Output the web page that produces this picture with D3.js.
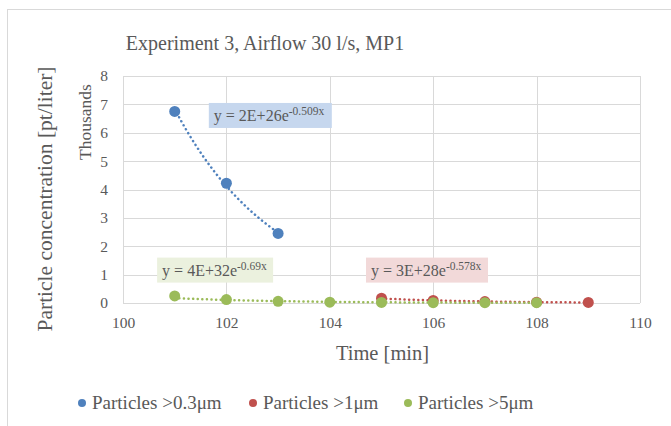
<!DOCTYPE html>
<html lang="en">
<head>
    <meta charset="UTF-8">
    <title>Experiment 3, Airflow 30 l/s, MP1</title>
    <script type="application/javascript" src="https://cdnjs.cloudflare.com/ajax/libs/d3/7.8.5/d3.min.js"></script>
    <style type="text/css">
        body { margin: 0; background: #fff; }
        svg text { fill: #595959; }
        .grid line { stroke: #d9d9d9; stroke-width: 1; }
        .axis path, .axis line { display: none; }
    </style>
</head>
<body>
<svg width="671" height="426"></svg>
<script type="application/javascript">
    // time in minutes, concentration in thousands of particles per liter
    var TIME_03 = [101, 102, 103];
    var CONC_03 = [6.75, 4.22, 2.45];
    var TIME_1 = [105, 106, 107, 108, 109];
    var CONC_1 = [0.17, 0.09, 0.05, 0.03, 0.02];
    var TIME_5 = [101, 102, 103, 104, 105, 106, 107, 108];
    var CONC_5 = [0.25, 0.12, 0.06, 0.03, 0.02, 0.012, 0.01, 0.01];

    var SERIES_NAMES = ['Particles >0.3\u03bcm', 'Particles >1\u03bcm', 'Particles >5\u03bcm'];
    var COLORS = ['#4f81bd', '#c0504d', '#9bbb59'];
    var LABEL_FILLS = ['#c6d7ee', '#f2d9d9', '#ebf1de'];
    var EQ_BASE = ['y = 2E+26e', 'y = 3E+28e', 'y = 4E+32e'];
    var EQ_EXP = ['-0.509x', '-0.578x', '-0.69x'];
    var X_TICKS = [100, 102, 104, 106, 108, 110];
    var Y_TICKS = [0, 1, 2, 3, 4, 5, 6, 7, 8];

    var FONT = "'Liberation Serif', 'Times New Roman', serif";

    var svg = d3.select('svg');
    var margin = {top: 76, left: 123, right: 31, bottom: 123};
    var width = 671 - margin.left - margin.right;
    var height = 426 - margin.top - margin.bottom;

    var x = d3.scaleLinear().domain([100, 110]).range([0, width]);
    var y = d3.scaleLinear().domain([0, 8]).range([height, 0]);

    // chart border
    svg.append('rect')
        .attr('x', 7.5).attr('y', 9.5)
        .attr('width', 680).attr('height', 430)
        .attr('fill', 'none').attr('stroke', '#d9d9d9');

    svg.append('text')
        .attr('x', 265).attr('y', 50)
        .attr('text-anchor', 'middle')
        .attr('font-family', FONT)
        .attr('font-size', 20)
        .text('Experiment 3, Airflow 30 l/s, MP1');

    var g = svg.append('g')
        .attr('transform', 'translate(' + margin.left + ',' + margin.top + ')');

    var grid = g.append('g').attr('class', 'grid');
    grid.selectAll('line.h').data(Y_TICKS).enter().append('line')
        .attr('x1', 0).attr('x2', width)
        .attr('y1', function(d) { return Math.round(y(d)) + 0.5; })
        .attr('y2', function(d) { return Math.round(y(d)) + 0.5; });
    grid.selectAll('line.v').data(X_TICKS).enter().append('line')
        .attr('y1', 0).attr('y2', height)
        .attr('x1', function(d) { return Math.round(x(d)) + 0.5; })
        .attr('x2', function(d) { return Math.round(x(d)) + 0.5; });

    var xAxis = g.append('g')
        .attr('class', 'axis')
        .attr('transform', 'translate(0,' + height + ')')
        .call(d3.axisBottom(x).tickValues(X_TICKS).tickSize(0).tickPadding(14));
    xAxis.attr('font-family', FONT).attr('font-size', 15.5);

    var yAxis = g.append('g')
        .attr('class', 'axis')
        .call(d3.axisLeft(y).tickValues(Y_TICKS).tickSize(0).tickPadding(15));
    yAxis.attr('font-family', FONT).attr('font-size', 15.5);

    svg.append('text')
        .attr('transform', 'translate(91,122) rotate(-90)')
        .attr('text-anchor', 'middle')
        .attr('font-family', FONT)
        .attr('font-size', 17.5)
        .text('Thousands');

    svg.append('text')
        .attr('transform', 'translate(52,199) rotate(-90)')
        .attr('text-anchor', 'middle')
        .attr('font-family', FONT)
        .attr('font-size', 21.5)
        .text('Particle concentration [pt/liter]');

    svg.append('text')
        .attr('x', margin.left + width / 2 + 1).attr('y', 360)
        .attr('text-anchor', 'middle')
        .attr('font-family', FONT)
        .attr('font-size', 20.5)
        .text('Time [min]');

    // exponential least squares fit on ln(y), like a spreadsheet trendline
    function expFit(xs, ys) {
        var n = xs.length;
        var ly = ys.map(function(v) { return Math.log(v); });
        var mx = d3.mean(xs), my = d3.mean(ly);
        var num = 0, den = 0;
        for (var i = 0; i < n; i++) {
            num += (xs[i] - mx) * (ly[i] - my);
            den += (xs[i] - mx) * (xs[i] - mx);
        }
        var b = num / den;
        var a = my - b * mx;
        return function(t) { return Math.exp(a + b * t); };
    }

    var series = [
        {xs: TIME_03, ys: CONC_03},
        {xs: TIME_1, ys: CONC_1},
        {xs: TIME_5, ys: CONC_5}
    ];

    var line = d3.line()
        .x(function(d) { return x(d[0]); })
        .y(function(d) { return y(d[1]); });

    var order = [0, 1, 2];
    order.forEach(function(i) {
        var s = series[i];
        var f = expFit(s.xs, s.ys);
        var x0 = d3.min(s.xs), x1 = d3.max(s.xs);
        var pts = d3.range(0, 61).map(function(k) {
            var t = x0 + (x1 - x0) * k / 60;
            return [t, f(t)];
        });
        g.append('path')
            .datum(pts)
            .attr('d', line)
            .attr('fill', 'none')
            .attr('stroke', COLORS[i])
            .attr('stroke-width', 2.5)
            .attr('stroke-linecap', 'round')
            .attr('stroke-dasharray', '0.1 4.5');
    });

    order.forEach(function(i) {
        var s = series[i];
        g.append('g').selectAll('circle')
            .data(s.xs.map(function(t, k) { return [t, s.ys[k]]; }))
            .enter().append('circle')
            .attr('cx', function(d) { return x(d[0]); })
            .attr('cy', function(d) { return y(d[1]); })
            .attr('r', 5.5)
            .attr('fill', COLORS[i]);
    });

    // equation labels (positions in data space)
    var labelPos = [
        {x: 101.66, y: 7.05, w: 123},
        {x: 104.7, y: 1.6, w: 122},
        {x: 100.66, y: 1.6, w: 116}
    ];
    labelPos.forEach(function(p, i) {
        var lx = x(p.x), ly = y(p.y);
        var lg = g.append('g').attr('transform', 'translate(' + lx + ',' + ly + ')');
        lg.append('rect')
            .attr('x', 0).attr('y', 0)
            .attr('width', p.w).attr('height', 25)
            .attr('fill', LABEL_FILLS[i]);
        var t = lg.append('text')
            .attr('x', 5).attr('y', 18)
            .attr('font-family', FONT)
            .attr('font-size', 16);
        t.append('tspan').text(EQ_BASE[i]);
        t.append('tspan')
            .attr('dy', -6)
            .attr('font-size', 11.5)
            .text(EQ_EXP[i]);
    });

    // legend
    var legendX = [82, 253, 408];
    var legend = svg.append('g').selectAll('g')
        .data(SERIES_NAMES)
        .enter().append('g')
        .attr('transform', function(d, i) { return 'translate(' + legendX[i] + ',403)'; });
    legend.append('circle')
        .attr('r', 4)
        .attr('fill', function(d, i) { return COLORS[i]; });
    legend.append('text')
        .attr('x', 10)
        .attr('y', 6)
        .attr('font-family', FONT)
        .attr('font-size', 19)
        .text(function(d) { return d; });
</script>
</body>
</html>
